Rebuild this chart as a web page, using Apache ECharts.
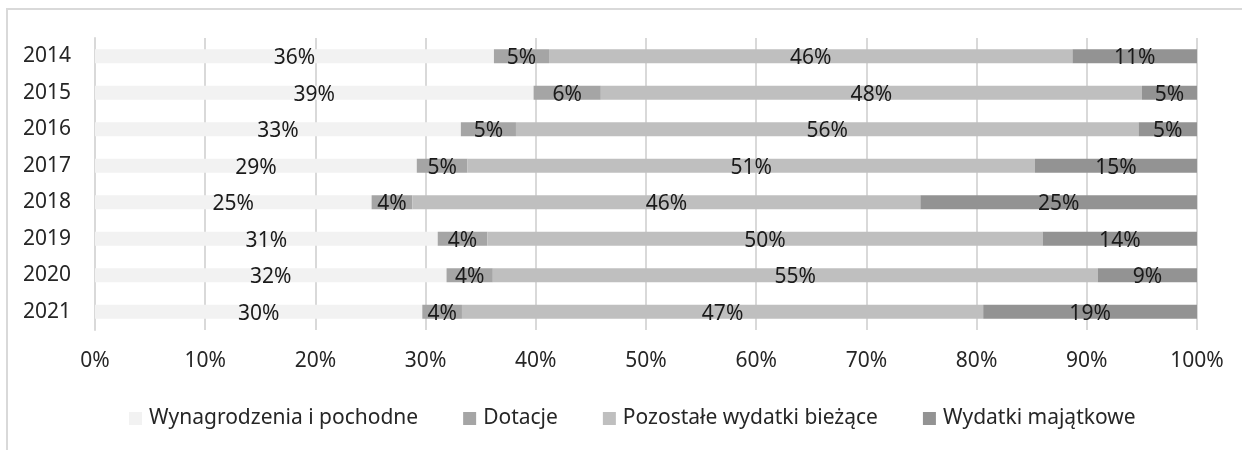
<!DOCTYPE html>
<html>
<head>
<meta charset="utf-8">
<script src="https://cdn.jsdelivr.net/npm/echarts@6/dist/echarts.min.js"></script>
<style>html,body{margin:0;padding:0;background:#fff}#c{width:1242px;height:450px}</style>
</head>
<body>
<div id="c"></div>
<script>
const years = ['2014','2015','2016','2017','2018','2019','2020','2021'];
const seriesNames = ['Wynagrodzenia i pochodne','Dotacje','Pozostałe wydatki bieżące','Wydatki majątkowe'];
// bar shares (normalised, %)
const wynagrodzenia = [36.2, 39.8, 33.2, 29.2, 25.1, 31.1, 31.9, 29.7];
const dotacje       = [5.0, 6.1, 5.0, 4.6, 3.7, 4.5, 4.2, 3.6];
const pozostale     = [47.5, 49.1, 56.5, 51.5, 46.1, 50.4, 54.9, 47.3];
const majatkowe     = [11.3, 5.0, 5.3, 14.7, 25.1, 14.0, 9.0, 19.4];
// printed data labels (%)
const lblWynagrodzenia = [36, 39, 33, 29, 25, 31, 32, 30];
const lblDotacje       = [5, 6, 5, 5, 4, 4, 4, 4];
const lblPozostale     = [46, 48, 56, 51, 46, 50, 55, 47];
const lblMajatkowe     = [11, 5, 5, 15, 25, 14, 9, 19];

const colors = ['#f2f2f2','#a5a5a5','#bfbfbf','#939393'];
const values = [wynagrodzenia, dotacje, pozostale, majatkowe];
const labels = [lblWynagrodzenia, lblDotacje, lblPozostale, lblMajatkowe];
const FONT = 'Noto Sans';
const FS = 21;

const chart = echarts.init(document.getElementById('c'), null, {renderer:'canvas'});
chart.setOption({
  animation: false,
  backgroundColor: '#fff',
  textStyle: {fontFamily: FONT},
  graphic: [
    {type:'line', shape:{x1:6, y1:9, x2:1242, y2:9}, style:{stroke:'#d9d9d9', lineWidth:2}, silent:true},
    {type:'line', shape:{x1:7, y1:8, x2:7, y2:450}, style:{stroke:'#d9d9d9', lineWidth:2}, silent:true}
  ],
  grid: {left:95, right:45, top:38, bottom:120, containLabel:false},
  legend: {
    top: 403, left: 124,
    itemWidth: 13, itemHeight: 13, itemGap: 45,
    icon: 'rect',
    textStyle: {fontFamily: FONT, fontSize: FS, color: '#262626', padding:[0,0,0,2]},
    data: seriesNames
  },
  xAxis: {
    type: 'value', min: 0, max: 100, interval: 10,
    axisLabel: {formatter: v => v + '%', fontFamily: FONT, fontSize: FS, color: '#262626', margin: 21},
    splitLine: {show:true, lineStyle:{color:'#d9d9d9', width:2}},
    axisLine: {show:false}, axisTick: {show:false}
  },
  yAxis: {
    type: 'category', inverse: true, data: years,
    axisLabel: {fontFamily: FONT, fontSize: FS, color: '#262626', margin: 24},
    axisLine: {show:true, lineStyle:{color:'#d9d9d9', width:2}},
    axisTick: {show:false}
  },
  series: seriesNames.map((name, i) => ({
    name: name,
    type: 'bar',
    stack: 'total',
    barWidth: 14,
    itemStyle: {color: colors[i]},
    label: {
      show: true, position: 'inside',
      fontFamily: FONT, fontSize: FS, color: '#1a1a1a',
      offset: [0, 2],
      formatter: p => labels[i][p.dataIndex] + '%'
    },
    data: values[i]
  }))
});
</script>
</body>
</html>
